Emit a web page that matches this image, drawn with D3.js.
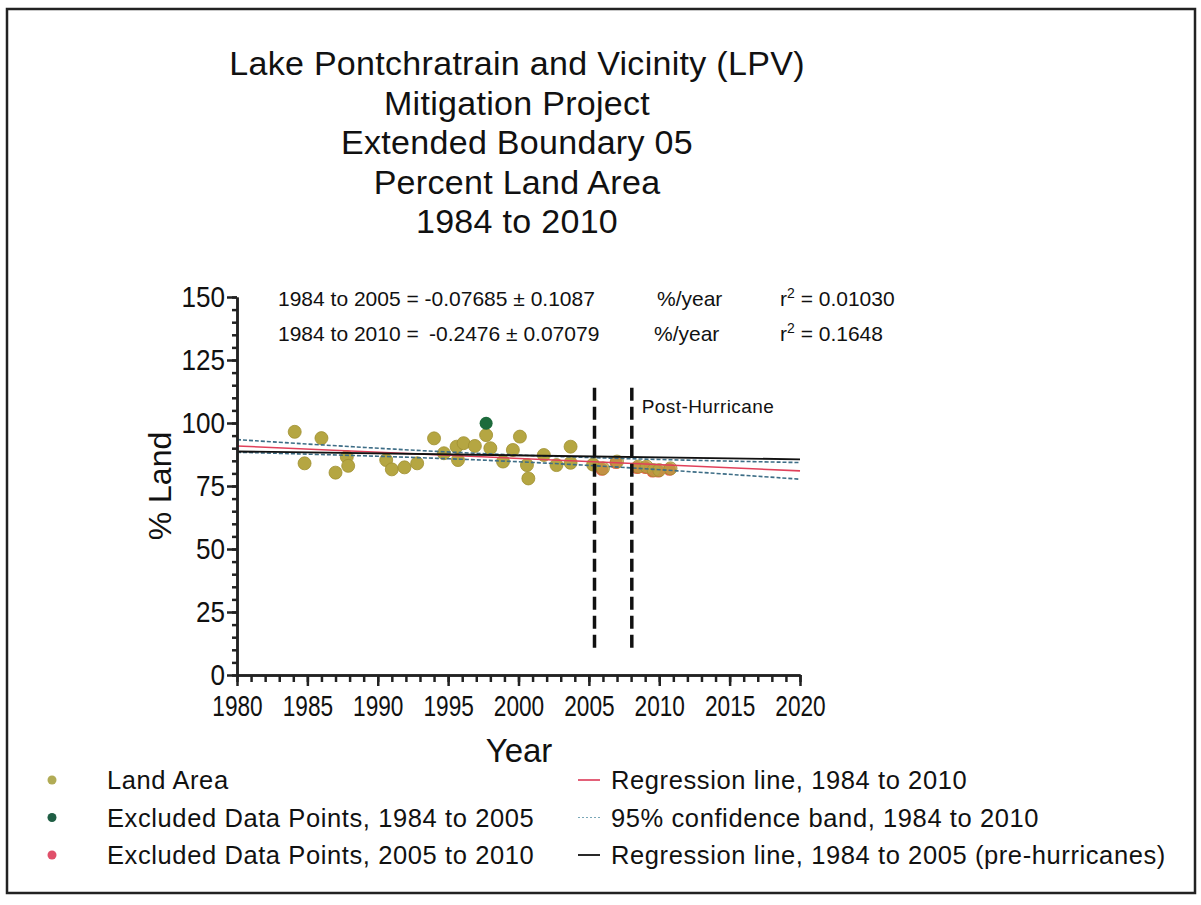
<!DOCTYPE html>
<html>
<head>
<meta charset="utf-8">
<script src="https://cdn.jsdelivr.net/npm/d3@7"></script>
<style>
  body { margin: 0; background: #fff; }
  text { font-family: "Liberation Sans", Arial, sans-serif; fill: #111; }
</style>
</head>
<body>
<div id="chart"></div>
<script>
// chart data
var landYears  = [1984.1, 1984.8, 1986.0, 1987.0, 1987.8, 1987.9, 1990.6, 1991.0, 1991.9, 1992.8,
                  1994.0, 1994.7, 1995.6, 1995.7, 1996.1, 1996.9, 1997.7, 1998.0, 1998.9, 1999.6,
                  2000.1, 2000.6, 2000.7, 2001.8, 2002.7, 2003.7, 2003.7, 2005.3,
                  2006.0, 2007.0, 2008.5, 2009.1, 2009.6, 2010.0, 2010.8];
var landValues = [96.5, 84.0, 94.0, 80.3, 86.5, 83.0, 85.3, 81.6, 82.4, 84.0,
                  93.9, 88.0, 90.6, 85.3, 92.0, 90.9, 95.2, 90.0, 84.7, 89.3,
                  94.6, 83.3, 78.0, 87.3, 83.3, 90.6, 84.2, 83.5,
                  82.0, 84.7, 82.7, 82.7, 81.3, 81.3, 82.0];

var excludedEarlyYears  = [1997.7];
var excludedEarlyValues = [99.9];

var excludedLateYears  = [2006.0, 2007.0, 2008.5, 2009.1, 2009.6, 2010.0, 2010.8];
var excludedLateValues = [82.0, 84.7, 82.7, 82.7, 81.3, 81.3, 82.0];

// regression lines (end points) and confidence band
var regYears = [1980, 2020];
var reg2010Values = [90.9, 81.0];
var reg2005Values = [88.7, 85.6];

var bandYears = [1980, 1988, 1996, 2004, 2012, 2020];
var bandUpper = [93.4, 90.6, 88.1, 86.4, 85.2, 84.3];
var bandLower = [88.4, 87.2, 85.7, 83.6, 80.8, 77.7];

var hurricaneYears = [2005.4, 2008.05];
var hurricaneSpan = [10, 114];

var xTickLabels = [1980, 1985, 1990, 1995, 2000, 2005, 2010, 2015, 2020];
var xMinorTicks = d3.range(1980, 2021, 1);
var yTickLabels = [0, 25, 50, 75, 100, 125, 150];
var yMinorTicks = d3.range(0, 151, 5);

var titleLines = ["Lake Pontchratrain and Vicinity (LPV)", "Mitigation Project",
                  "Extended Boundary 05", "Percent Land Area", "1984 to 2010"];

var svgWidth = 1201;
var svgHeight = 905;

var svg = d3.select("#chart")
  .append("svg")
  .attr("width", svgWidth)
  .attr("height", svgHeight);

// outer frame
svg.append("rect")
  .attr("x", 7).attr("y", 9)
  .attr("width", 1188).attr("height", 884)
  .attr("fill", "none")
  .attr("stroke", "#222")
  .attr("stroke-width", 2.5);

// title
svg.append("g").selectAll("text")
  .data(titleLines)
  .enter()
  .append("text")
  .attr("x", 517)
  .attr("y", (d, i) => 75 + i * 39.5)
  .attr("text-anchor", "middle")
  .attr("font-size", "34px")
  .attr("letter-spacing", "0.3px")
  .text(d => d);

var x = d3.scaleLinear().domain([1980, 2020]).range([237, 800]);
var y = d3.scaleLinear().domain([0, 150]).range([675, 297]);

// points first, lines drawn over them
var pointsGroup = svg.append("g");

pointsGroup.selectAll(".late")
  .data(excludedLateYears)
  .enter()
  .append("circle")
  .attr("cx", (d, i) => x(d) - 1)
  .attr("cy", (d, i) => y(excludedLateValues[i]) + 1)
  .attr("r", 6.5)
  .attr("fill", "#e8604a");

pointsGroup.selectAll(".land")
  .data(landYears)
  .enter()
  .append("circle")
  .attr("cx", d => x(d))
  .attr("cy", (d, i) => y(landValues[i]))
  .attr("r", 6.5)
  .attr("fill", d => d > 2005.5 ? "rgba(181,166,66,0.7)" : "#b5a642")
  .attr("stroke", "#a08f30")
  .attr("stroke-width", 0.8);

pointsGroup.selectAll(".early")
  .data(excludedEarlyYears)
  .enter()
  .append("circle")
  .attr("cx", d => x(d))
  .attr("cy", (d, i) => y(excludedEarlyValues[i]))
  .attr("r", 6.5)
  .attr("fill", "#1d6b3c");

// confidence band
var bandLine = d3.line().curve(d3.curveBasis);
[bandUpper, bandLower].forEach(function(vals) {
  svg.append("path")
    .attr("d", bandLine(bandYears.map((d, i) => [x(d), y(vals[i])])))
    .attr("fill", "none")
    .attr("stroke", "#3d6d86")
    .attr("stroke-width", 1.6)
    .attr("stroke-dasharray", "4,2");
});

// regression lines
svg.append("path")
  .attr("d", d3.line()(regYears.map((d, i) => [x(d), y(reg2010Values[i])])))
  .attr("stroke", "#e0405a")
  .attr("stroke-width", 1.6)
  .attr("fill", "none");

svg.append("path")
  .attr("d", d3.line()(regYears.map((d, i) => [x(d), y(reg2005Values[i])])))
  .attr("stroke", "#111")
  .attr("stroke-width", 1.8)
  .attr("fill", "none");

// hurricane markers
svg.append("g").selectAll("line")
  .data(hurricaneYears)
  .enter()
  .append("line")
  .attr("x1", d => x(d)).attr("x2", d => x(d))
  .attr("y1", y(hurricaneSpan[1])).attr("y2", y(hurricaneSpan[0]))
  .attr("stroke", "#111")
  .attr("stroke-width", 3.5)
  .attr("stroke-dasharray", "13,6");

svg.append("text")
  .attr("x", x(hurricaneYears[1]) + 10)
  .attr("y", 413)
  .attr("font-size", "19px")
  .attr("letter-spacing", "0.4px")
  .text("Post-Hurricane");

// axes: minor ticks then labelled major ticks
// tick labels are squeezed to look like the condensed face of the original
function styleAxis(perDigit) {
  return function(g) {
    g.selectAll("path, line").attr("stroke", "#222").attr("stroke-width", 2.5);
    g.selectAll("text")
      .attr("font-size", "30px")
      .attr("fill", "#111")
      .attr("lengthAdjust", "spacingAndGlyphs")
      .attr("textLength", function() { return this.textContent.length * perDigit; });
  };
}

svg.append("g")
  .attr("transform", "translate(0,675)")
  .call(d3.axisBottom(x).tickValues(xMinorTicks).tickSize(7).tickSizeOuter(0).tickFormat(""))
  .call(styleAxis(12.6));

svg.append("g")
  .attr("transform", "translate(0,675)")
  .call(d3.axisBottom(x).tickValues(xTickLabels).tickSize(11).tickSizeOuter(0).tickPadding(9).tickFormat(d3.format("d")))
  .call(styleAxis(12.6));

svg.append("g")
  .attr("transform", "translate(237,0)")
  .call(d3.axisLeft(y).tickValues(yMinorTicks).tickSize(5).tickSizeOuter(0).tickFormat(""))
  .call(styleAxis(14.5));

svg.append("g")
  .attr("transform", "translate(237,0)")
  .call(d3.axisLeft(y).tickValues(yTickLabels).tickSize(10).tickSizeOuter(0).tickPadding(2))
  .call(styleAxis(14.5));

// axis titles
svg.append("text")
  .attr("x", 519).attr("y", 762)
  .attr("text-anchor", "middle")
  .attr("font-size", "33px")
  .text("Year");

svg.append("text")
  .attr("transform", "translate(171,486) rotate(-90)")
  .attr("text-anchor", "middle")
  .attr("font-size", "32px")
  .text("% Land");

// regression annotations
var note = svg.append("g").attr("font-size", "21px");
note.append("text").attr("x", 278).attr("y", 306).text("1984 to 2005 = -0.07685 \u00b1 0.1087");
note.append("text").attr("x", 657).attr("y", 306).text("%/year");
note.append("text").attr("x", 780).attr("y", 306)
  .html('r<tspan dy="-8" font-size="14px">2</tspan><tspan dy="8"> = 0.01030</tspan>');
note.append("text").attr("x", 278).attr("y", 341).text("1984 to 2010 =");
note.append("text").attr("x", 429).attr("y", 341).text("-0.2476 \u00b1 0.07079");
note.append("text").attr("x", 654).attr("y", 341).text("%/year");
note.append("text").attr("x", 780).attr("y", 341)
  .html('r<tspan dy="-8" font-size="14px">2</tspan><tspan dy="8"> = 0.1648</tspan>');

// legend
var legendLeft = [
  {label: "Land Area", color: "#b1ab55"},
  {label: "Excluded Data Points, 1984 to 2005", color: "#1f5e44"},
  {label: "Excluded Data Points, 2005 to 2010", color: "#e0506a"}
];
var legendRight = [
  {label: "Regression line, 1984 to 2010", color: "#e0506a", dash: null},
  {label: "95% confidence band, 1984 to 2010", color: "#7aa8b8", dash: "2,2"},
  {label: "Regression line, 1984 to 2005 (pre-hurricanes)", color: "#111", dash: null}
];

var legL = svg.append("g").selectAll("g")
  .data(legendLeft)
  .enter()
  .append("g")
  .attr("transform", (d, i) => `translate(0, ${780 + i * 37.5})`);
legL.append("circle").attr("cx", 52).attr("cy", 0).attr("r", 4.5).attr("fill", d => d.color);
legL.append("text").attr("x", 107).attr("y", 9).attr("font-size", "25.5px")
  .attr("letter-spacing", "0.6px").text(d => d.label);

var legR = svg.append("g").selectAll("g")
  .data(legendRight)
  .enter()
  .append("g")
  .attr("transform", (d, i) => `translate(0, ${780 + i * 37.5})`);
legR.append("line")
  .attr("x1", 578).attr("x2", 600)
  .attr("y1", 0).attr("y2", 0)
  .attr("stroke", d => d.color)
  .attr("stroke-width", d => d.dash ? 1.2 : 1.8)
  .attr("stroke-dasharray", d => d.dash);
legR.append("text").attr("x", 611).attr("y", 9).attr("font-size", "25.5px")
  .attr("letter-spacing", "0.6px").text(d => d.label);
</script>
</body>
</html>
